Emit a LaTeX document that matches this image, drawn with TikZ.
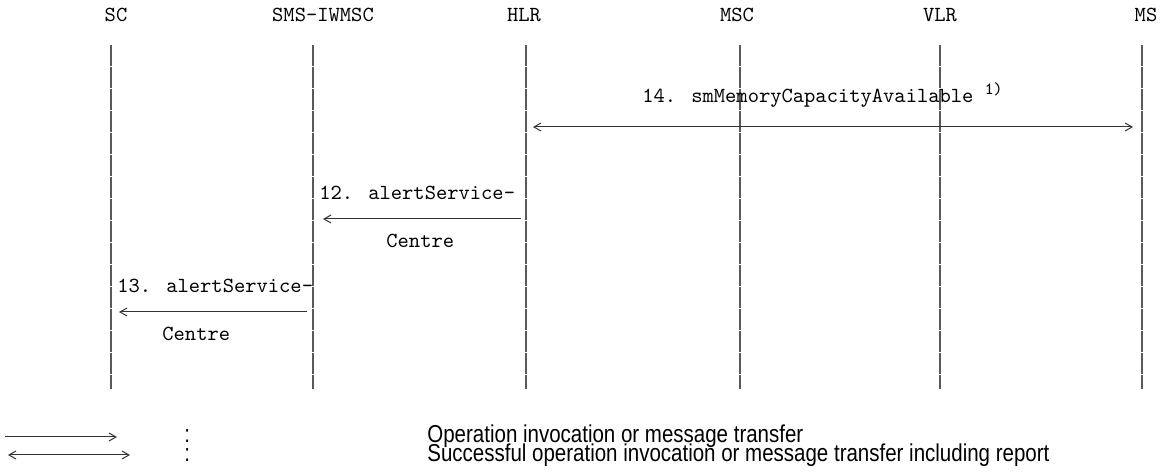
\documentclass[tikz,border=0pt]{standalone}
\usepackage{fontspec}
\setmainfont{Liberation Sans}
\newfontfamily\narrowsans[FakeStretch=0.84]{Liberation Sans}
\usetikzlibrary{arrows.meta}

\tikzset{
  head/.style={font=\ttfamily\fontsize{10.75}{12}\selectfont, anchor=base, inner sep=0pt},
  msgtext/.style={font=\ttfamily\fontsize{10.75}{12}\selectfont, anchor=base west, inner sep=0pt},
  lifeline/.style={draw=black!65, line width=0.6pt, dash pattern=on 10.5pt off 0.5pt},
  msg/.style={line width=0.5pt, black!80},
  legendtext/.style={font=\narrowsans\fontsize{12.2}{12}\selectfont, anchor=base west, inner sep=0pt},
}

\begin{document}
\begin{tikzpicture}[x=0.5pt, y=-0.5pt, >={Straight Barb[length=3.5pt,width=4pt]}]
  \useasboundingbox (0,0) rectangle (1161,474);
  % entities
  \node[head] (sc) at (116,22) {SC};
  \node[head] (iwmsc) at (323,22) {SMS-IWMSC};
  \node[head] (hlr) at (524,22) {HLR};
  \node[head] (msc) at (737,22) {MSC};
  \node[head] (vlr) at (940,22) {VLR};
  \node[head] (ms) at (1146,22) {MS};
  % lifelines
  \foreach \n/\x in {sc/111, iwmsc/313, hlr/526, msc/740, vlr/940, ms/1142} {
    \coordinate (\n-top) at (\x,45);
    \coordinate (\n-bot) at (\x,389);
    \draw[lifeline] (\n-top) -- (\n-bot);
  }

  % 14
  \node[msgtext] (t14) at (642,103) {14. smMemoryCapacityAvailable \raisebox{4pt}{\fontsize{8.5}{9}\selectfont 1)}};
  \draw[msg, <->, shorten <=3.5pt, shorten >=4.5pt] (hlr-top |- 0,127) -- (ms-top |- 0,127);

  % 12
  \node[msgtext] (t12) at (319,200) {12. alertService-};
  \draw[msg, ->, shorten <=2.5pt, shorten >=5pt] (hlr-top |- 0,219) -- (iwmsc-top |- 0,219);
  \node[msgtext] (c12) at (386,248) {Centre};

  % 13
  \node[msgtext] (t13) at (117,293) {13. alertService-};
  \draw[msg, ->, shorten <=3pt, shorten >=4pt] (iwmsc-top |- 0,312) -- (sc-top |- 0,312);
  \node[msgtext] (c13) at (162,341) {Centre};

  % legend
  \coordinate (leg1a) at (5,437);
  \coordinate (leg1b) at (117,437);
  \coordinate (leg2a) at (8,455);
  \coordinate (leg2b) at (130,455);
  \draw[msg, ->] (leg1a) -- (leg1b);
  \draw[msg, <->] (leg2a) -- (leg2b);
  \node[legendtext] (col1) at (184,443) {:};
  \node[legendtext] (col2) at (184,462) {:};
  \node[legendtext] (leg1) at (427,443) {Operation invocation or message transfer};
  \node[legendtext] (leg2) at (427,462) {Successful operation invocation or message transfer including report};
\end{tikzpicture}
\end{document}
